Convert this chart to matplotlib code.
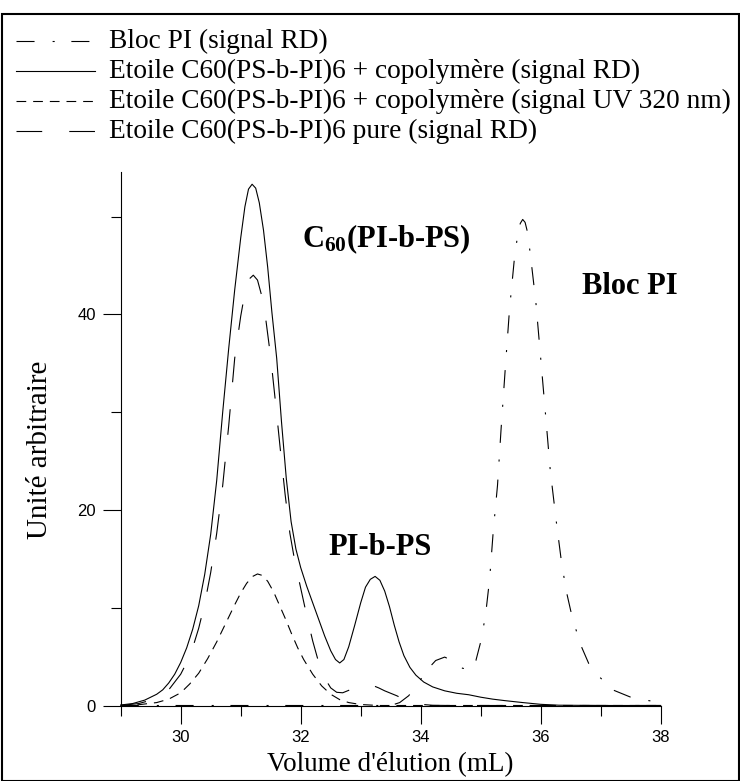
import matplotlib
matplotlib.use('Agg')
import matplotlib.pyplot as plt
from matplotlib.lines import Line2D
from matplotlib.patches import Rectangle
from matplotlib.ticker import FixedLocator

plt.rcParams['lines.scale_dashes'] = False
plt.rcParams['mathtext.fontset'] = 'custom'
plt.rcParams['mathtext.rm'] = 'Liberation Serif'
plt.rcParams['mathtext.bf'] = 'Liberation Serif:bold'

# Bloc PI (signal RD)
bloc_x = [29.0, 33.5, 33.65, 33.8, 33.95, 34.1, 34.25, 34.4, 34.55, 34.7, 34.82, 34.92,
          35.0, 35.08, 35.15, 35.21, 35.28, 35.34, 35.41, 35.48, 35.56, 35.62, 35.66,
          35.7, 35.74, 35.78, 35.83, 35.92, 36.0, 36.08, 36.16, 36.26, 36.35, 36.43,
          36.5, 36.6, 36.68, 36.8, 36.9, 37.0, 37.2, 37.5, 37.8, 38.0]
bloc_y = [0.0, 0.0, 0.3, 1.0, 2.2, 3.6, 4.6, 4.95, 4.5, 3.8, 3.7, 4.6,
          6.5, 9.2, 13.0, 17.9, 22.5, 28.3, 34.5, 40.5, 45.6, 48.3, 49.3,
          49.7, 49.4, 48.4, 46.0, 41.2, 35.5, 29.8, 24.0, 18.8, 14.5, 11.6,
          9.7, 7.5, 6.0, 4.3, 3.4, 2.8, 1.6, 0.85, 0.5, 0.3]

# Etoile + copolymere (signal RD)
mix_x = [29.0, 29.2, 29.4, 29.6, 29.7, 29.8, 29.9, 30.0, 30.1, 30.2, 30.3, 30.4,
         30.5, 30.6, 30.7, 30.8, 30.9, 31.0, 31.07, 31.13, 31.19, 31.25, 31.31,
         31.38, 31.45, 31.52, 31.6, 31.68, 31.76, 31.84, 31.92, 32.0, 32.1, 32.2,
         32.3, 32.4, 32.5, 32.58, 32.65, 32.72, 32.8, 32.9, 33.0, 33.08, 33.16,
         33.24, 33.32, 33.4, 33.48, 33.56, 33.64, 33.72, 33.82, 33.92, 34.05,
         34.2, 34.4, 34.6, 34.8, 35.0, 35.2, 35.4, 35.7, 36.0, 36.3, 37.0, 38.0]
mix_y = [0.05, 0.2, 0.55, 1.15, 1.6, 2.3, 3.2, 4.4, 5.9, 7.8, 10.2, 13.4,
         17.5, 23.0, 30.0, 36.5, 42.5, 47.8, 51.0, 52.8, 53.3, 52.9, 51.4,
         48.6, 44.8, 40.2, 35.5, 29.0, 23.2, 18.8, 16.0, 14.1, 12.2, 10.5,
         8.8, 7.1, 5.6, 4.7, 4.35, 4.7, 6.0, 8.2, 10.5, 12.1, 12.9,
         13.2, 12.8, 11.7, 10.1, 8.2, 6.5, 5.1, 3.9, 3.1, 2.4,
         1.9, 1.5, 1.25, 1.1, 0.85, 0.65, 0.5, 0.3, 0.12, 0.03, 0.0, 0.0]

# Etoile + copolymere (signal UV 320 nm)
uv_x = [29.0, 29.3, 29.6, 29.8, 30.0, 30.15, 30.3, 30.45, 30.6, 30.75, 30.9, 31.0,
        31.1, 31.2, 31.28, 31.36, 31.45, 31.55, 31.65, 31.75, 31.85, 31.95, 32.05,
        32.2, 32.35, 32.5, 32.65, 32.8, 33.0, 33.3, 38.0]
uv_y = [0.0, 0.08, 0.3, 0.65, 1.3, 2.2, 3.3, 4.8, 6.5, 8.4, 10.3, 11.5,
        12.5, 13.2, 13.45, 13.3, 12.7, 11.6, 10.2, 8.8, 7.3, 5.9, 4.7,
        3.2, 2.0, 1.15, 0.6, 0.3, 0.1, 0.0, 0.0]

# Etoile pure (signal RD)
pure_x = [29.0, 29.3, 29.6, 29.8, 30.0, 30.1, 30.2, 30.3, 30.4, 30.5, 30.6, 30.7,
          30.8, 30.9, 31.0, 31.07, 31.14, 31.21, 31.28, 31.35, 31.42, 31.5, 31.58,
          31.66, 31.74, 31.82, 31.9, 32.0, 32.1, 32.2, 32.3, 32.4, 32.5, 32.6,
          32.7, 32.8, 32.9, 33.0, 33.1, 33.2, 33.3, 33.4, 33.5, 33.6, 33.7, 33.8,
          33.9, 34.0, 34.2, 34.5, 38.0]
pure_y = [0.0, 0.2, 0.7, 1.6, 3.2, 4.4, 5.9, 7.9, 10.4, 13.6, 17.6, 22.5,
          28.6, 35.5, 39.8, 42.2, 43.6, 44.0, 43.5, 41.9, 39.4, 35.6, 31.0,
          26.2, 21.6, 17.6, 14.8, 12.0, 9.2, 6.6, 4.4, 2.8, 1.8, 1.35,
          1.3, 1.55, 1.85, 2.05, 2.15, 2.05, 1.8, 1.5, 1.25, 1.0, 0.7, 0.45,
          0.25, 0.12, 0.02, 0.0, 0.0]

labels = ['Bloc PI (signal RD)',
          'Etoile C60(PS-b-PI)6 + copolymère (signal RD)',
          'Etoile C60(PS-b-PI)6 + copolymère (signal UV 320 nm)',
          'Etoile C60(PS-b-PI)6 pure (signal RD)']
styles = [(0, (13, 13, 1.5, 12)), '-', (0, (7, 5)), (0, (18.5, 19.5))]
series = [(bloc_x, bloc_y), (mix_x, mix_y), (uv_x, uv_y), (pure_x, pure_y)]

x_major = [30, 32, 34, 36, 38]
x_minor = [29, 31, 33, 35, 37]
y_major = [0, 20, 40]
y_minor = [10, 30, 50]

W, H = 740, 781
fig = plt.figure(figsize=(W / 100, H / 100), dpi=100)
ax = fig.add_axes([120.7 / W, 1 - 705.5 / H, 540 / W, 533 / H])

for (xs, ys), ls in zip(series, styles):
    ax.plot(xs, ys, color='black', lw=0.8, linestyle=ls, clip_on=False)

ax.set_xlim(29, 38)
ax.set_ylim(0, 54.5)
for s in ['top', 'right']:
    ax.spines[s].set_visible(False)
for s in ['left', 'bottom']:
    ax.spines[s].set_linewidth(0.8)

ax.xaxis.set_major_locator(FixedLocator(x_major))
ax.xaxis.set_minor_locator(FixedLocator(x_minor))
ax.yaxis.set_major_locator(FixedLocator(y_major))
ax.yaxis.set_minor_locator(FixedLocator(y_minor))
ax.tick_params(which='major', direction='out', length=13, width=0.8,
               labelsize=12, pad=5)
ax.tick_params(which='minor', direction='out', length=7, width=0.8)
for t in ax.get_xticklabels() + ax.get_yticklabels():
    t.set_fontfamily('Liberation Sans')

ax.set_xlabel("Volume d'élution (mL)", family='Liberation Serif', fontsize=19.5)
ax.xaxis.set_label_coords(0.5, -0.088)
ax.set_ylabel('Unité arbitraire', family='Liberation Serif', fontsize=21, va='center')
ax.yaxis.set_label_coords(-0.149, 0.48)

ax.text(32.02, 46.9, r'$\mathbf{C_{60}}$(PI-b-PS)', family='Liberation Serif',
        fontweight='bold', fontsize=22, ha='left', va='baseline')
ax.text(36.68, 42.1, 'Bloc PI', family='Liberation Serif',
        fontweight='bold', fontsize=22, ha='left', va='baseline')
ax.text(32.46, 15.4, 'PI-b-PS', family='Liberation Serif',
        fontweight='bold', fontsize=22, ha='left', va='baseline')

# legend drawn by hand at the top
rows = [41, 71, 101, 131]
for lab, ls, py in zip(labels, styles, rows):
    fig.add_artist(Line2D([16 / W, 95 / W], [1 - py / H, 1 - py / H],
                          transform=fig.transFigure, color='black', lw=0.8, linestyle=ls))
    fig.text(109 / W, 1 - py / H, lab, family='Liberation Serif', fontsize=19.7,
             ha='left', va='center')

fig.add_artist(Rectangle((1.5 / W, 0.5 / H), (W - 2.5) / W, (H - 14.5) / H,
                         transform=fig.transFigure, fill=False, lw=1.5, ec='black'))

fig.savefig('out.png', dpi=100)
